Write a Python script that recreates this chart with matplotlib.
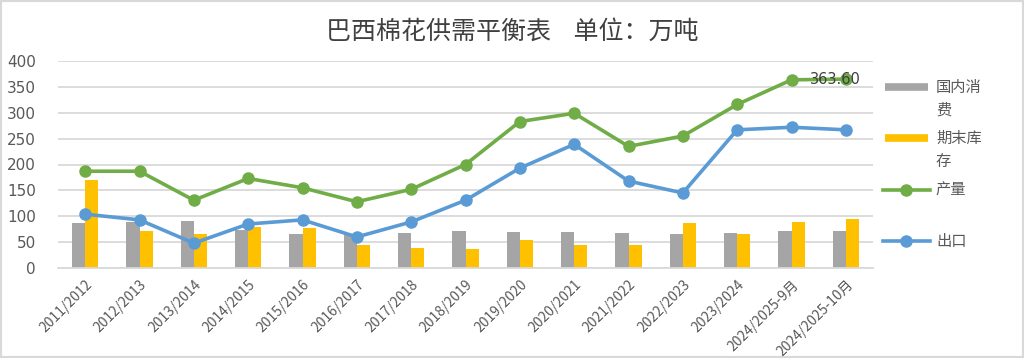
import numpy as np
import matplotlib.pyplot as plt
from matplotlib.patches import Rectangle
from matplotlib.lines import Line2D

plt.rcParams['font.family'] = ['Noto Sans CJK SC', 'DejaVu Sans']

seasons = ['2011/2012', '2012/2013', '2013/2014', '2014/2015', '2015/2016',
           '2016/2017', '2017/2018', '2018/2019', '2019/2020', '2020/2021',
           '2021/2022', '2022/2023', '2023/2024', '2024/2025-9月', '2024/2025-10月']
consumption = [86, 88, 91, 73, 66, 65, 68, 71, 70, 70, 68, 66, 68, 71, 71]
ending_stocks = [171, 71, 65, 80, 77, 44, 39, 37, 55, 45, 44, 86, 66, 88, 94]
production = [187, 187, 131, 173, 155, 128, 152, 200, 283, 299, 235, 255, 316, 363.6, 365]
exports = [104, 93, 48, 85, 93, 60, 89, 131, 193, 239, 168, 145, 267, 272, 267]

GREY = '#A5A5A5'
YELLOW = '#FFC000'
GREEN = '#70AD47'
BLUE = '#5B9BD5'
TXT = '#595959'

W, H = 1024, 358
fig = plt.figure(figsize=(W / 100, H / 100), dpi=100)
ax = fig.add_axes([58 / W, 1 - 268 / H, 815 / W, 207 / H])

x = np.arange(len(seasons))
w = 0.24
ax.bar(x - w / 2, consumption, w, color=GREY, zorder=2)
ax.bar(x + w / 2, ending_stocks, w, color=YELLOW, zorder=2)
ax.plot(x, production, color=GREEN, lw=2.6, marker='o', ms=8, zorder=3)
ax.plot(x, exports, color=BLUE, lw=2.6, marker='o', ms=8, zorder=3)

ax.annotate('363.60', (x[13], production[13]), xytext=(13, 0), textcoords='offset points',
            va='center', ha='left', fontsize=10.5, color='#404040', family='DejaVu Sans', zorder=4)

ax.set_xlim(-0.5, len(seasons) - 0.5)
ax.set_ylim(0, 400)
ax.set_yticks(range(0, 401, 50))
ax.yaxis.grid(True, color='#D9D9D9', lw=1.3, zorder=0)
ax.set_axisbelow(True)
for s in ['top', 'right', 'left']:
    ax.spines[s].set_visible(False)
ax.spines['bottom'].set_color('#D9D9D9')
ax.spines['bottom'].set_linewidth(1.3)
ax.tick_params(length=0)
ax.tick_params(axis='y', labelsize=11, labelcolor=TXT, pad=16)
for lab in ax.get_yticklabels():
    lab.set_family('DejaVu Sans')
ax.set_xticks(x)
ax.set_xticklabels(seasons, rotation=45, ha='right', rotation_mode='anchor',
                   fontsize=10, color=TXT)
ax.tick_params(axis='x', pad=7)

# legend drawn by hand, Excel style: handle level with the first text line
legend_items = [('国内消\n费', GREY, 'bar', 87),
                ('期末库\n存', YELLOW, 'bar', 138),
                ('产量', GREEN, 'line', 190),
                ('出口', BLUE, 'line', 241)]
for label, col, kind, yp in legend_items:
    yf = 1 - yp / H
    if kind == 'bar':
        fig.add_artist(Line2D([885 / W, 928 / W], [yf, yf], color=col, lw=5.5,
                              solid_capstyle='butt', transform=fig.transFigure))
    else:
        fig.add_artist(Line2D([883 / W, 930 / W], [yf, yf], color=col, lw=2.6,
                              transform=fig.transFigure))
        fig.add_artist(Line2D([906 / W], [yf], color=col, marker='o', ms=8,
                              transform=fig.transFigure))
    fig.text(936 / W, 1 - (yp - 8) / H, label, ha='left', va='top', fontsize=11,
             color=TXT, linespacing=1.45)

fig.text(0.5, 1 - 32 / H, '巴西棉花供需平衡表    单位：万吨', ha='center', va='center',
         fontsize=18, color='#404040')

fig.patches.append(Rectangle((0, 0), 1, 1, transform=fig.transFigure, fill=False,
                             edgecolor='#D9D9D9', lw=3))

fig.savefig('out.png', dpi=100)
